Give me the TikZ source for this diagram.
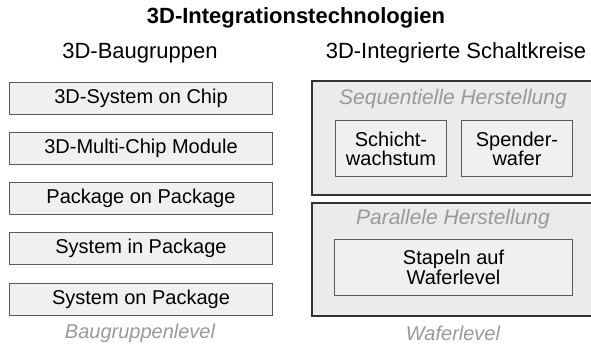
\documentclass[tikz,border=0pt]{standalone}
\usepackage{fontspec}
\setmainfont{Liberation Sans}
\definecolor{boxfill}{HTML}{F0F0F0}
\definecolor{boxline}{HTML}{5A5A5A}
\definecolor{outerfill}{HTML}{EBEBEB}
\definecolor{outerline}{HTML}{333333}
\definecolor{graytxt}{HTML}{999999}
\tikzset{
  itembox/.style={draw=boxline, fill=boxfill, line width=1pt, inner sep=0pt, anchor=north west},
  groupbox/.style={draw=outerline, fill=outerfill, line width=2pt, inner sep=0pt, anchor=north west},
  boxtxt/.style={font=\fontsize{20}{19.5}\selectfont, align=center},
  headtxt/.style={font=\fontsize{22}{24}\selectfont},
  titletxt/.style={font=\bfseries\fontsize{22}{24}\selectfont},
  graylabel/.style={font=\itshape\fontsize{21}{23}\selectfont, text=graytxt},
  levellabel/.style={font=\itshape\fontsize{20}{22}\selectfont, text=graytxt},
}
\begin{document}
\begin{tikzpicture}[x=1pt,y=-1pt]
\useasboundingbox (0,0) rectangle (591,347);
\clip (0,0) rectangle (591,347);
% title and headings
\node[titletxt] (title) at (296,18) {3D-Integrationstechnologien};
\node[headtxt] (hleft) at (140,53) {3D-Baugruppen};
\node[headtxt] (hright) at (456,53) {3D-Integrierte Schaltkreise};
% left column
\node[itembox, minimum width=263pt, minimum height=32pt] (b1) at (9,82) {};
\node[boxtxt] (t1) at (b1.center) {3D-System on Chip};
\node[itembox, minimum width=263pt, minimum height=32pt] (b2) at (9,132) {};
\node[boxtxt] (t2) at (b2.center) {3D-Multi-Chip Module};
\node[itembox, minimum width=263pt, minimum height=32pt] (b3) at (9,182) {};
\node[boxtxt] (t3) at (b3.center) {Package on Package};
\node[itembox, minimum width=263pt, minimum height=32pt] (b4) at (9,232) {};
\node[boxtxt] (t4) at (b4.center) {System in Package};
\node[itembox, minimum width=263pt, minimum height=32pt] (b5) at (9,283) {};
\node[boxtxt] (t5) at (b5.center) {System on Package};
\node[levellabel] (lvl1) at (140,333) {Baugruppenlevel};
% right column
\node[groupbox, minimum width=290pt, minimum height=114pt] (g1) at (311,80) {};
\node[graylabel] (g1t) at (453,99) {Sequentielle Herstellung};
\node[itembox, minimum width=111pt, minimum height=56pt] (s1) at (335,120.5) {};
\node[boxtxt] (s1t) at (s1.center) {Schicht-\\wachstum};
\node[itembox, minimum width=111pt, minimum height=56pt] (s2) at (461,120.5) {};
\node[boxtxt] (s2t) at (s2.center) {Spender-\\wafer};
\node[groupbox, minimum width=290pt, minimum height=113pt] (g2) at (311,202) {};
\node[graylabel] (g2t) at (453,219) {Parallele Herstellung};
\node[itembox, minimum width=238pt, minimum height=56pt] (p1) at (334,239) {};
\node[boxtxt] (p1t) at (p1.center) {Stapeln auf\\Waferlevel};
\node[levellabel] (lvl2) at (453,333) {Waferlevel};
\end{tikzpicture}
\end{document}
